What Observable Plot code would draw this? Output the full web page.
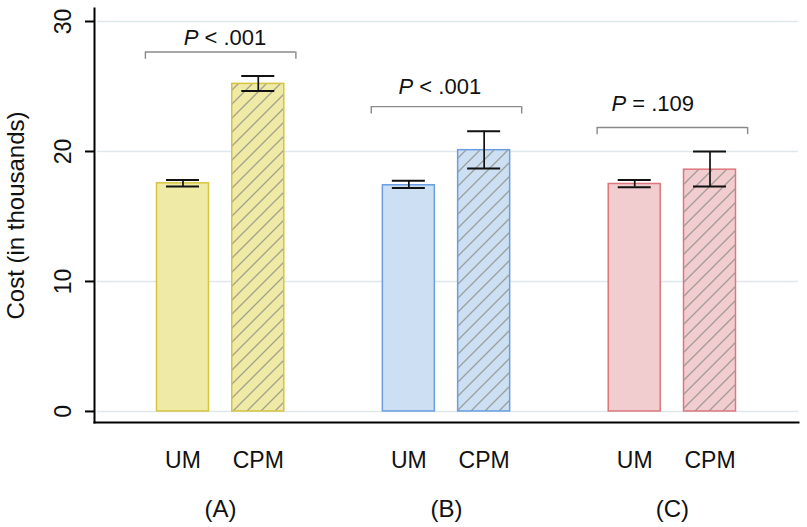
<!DOCTYPE html>
<html>
<head>
<meta charset="utf-8">
<script src="https://cdn.jsdelivr.net/npm/d3@7"></script>
<script src="https://cdn.jsdelivr.net/npm/@observablehq/plot@0.6"></script>
<style>
  html, body { margin: 0; padding: 0; background: #fff; }
  #chart { width: 807px; height: 527px; }
</style>
</head>
<body>
<div id="chart"></div>
<script>
// ---- data ----
const groups = ["A", "B", "C"];
const arms = ["UM", "CPM"];
const umMean = [17.55, 17.4, 17.5];
const umLow = [17.3, 17.2, 17.25];
const umHigh = [17.8, 17.75, 17.8];
const cpmMean = [25.2, 20.1, 18.6];
const cpmLow = [24.65, 18.7, 17.3];
const cpmHigh = [25.8, 21.55, 20.0];
const pLabels = ["P < .001", "P < .001", "P = .109"];
const bracketAt = [27.65, 23.45, 21.85];
const pLabelAt = [28.7, 24.95, 23.65];
const yTicks = [0, 10, 20, 30];
const yLabel = "Cost (in thousands)";

// ---- styles / layout ----
const palette = {
  A: {fill: "#efeaa6", stroke: "#d6c43f"},
  B: {fill: "#cddff3", stroke: "#6a9ee0"},
  C: {fill: "#f1cdd0", stroke: "#dc777d"}
};
const pDx = [42, 31, 18];
const halfStep = 37.6;
const legDrop = 0.56;
const font = "'Liberation Sans', Arial, Helvetica, sans-serif";

// ---- tables ----
const key = (g, a) => `${g}|${a}`;
const slots = [];
groups.forEach((g, i) => {
  arms.forEach(a => slots.push(key(g, a)));
  if (i < groups.length - 1) slots.push(`gap${i}`);
});
const rows = groups.flatMap((g, i) => [
  {group: g, arm: arms[0], slot: key(g, arms[0]), mean: umMean[i], lo: umLow[i], hi: umHigh[i]},
  {group: g, arm: arms[1], slot: key(g, arms[1]), mean: cpmMean[i], lo: cpmLow[i], hi: cpmHigh[i]}
]);
const pv = groups.map((g, i) => ({
  group: g, label: pLabels[i], bracket: bracketAt[i], at: pLabelAt[i],
  left: key(g, arms[0]), right: key(g, arms[1])
}));

const marks = [
  Plot.gridY(yTicks, {stroke: "#dde8eb", strokeOpacity: 1, strokeWidth: 1.5, insetLeft: 3})
];
groups.forEach(g => {
  marks.push(Plot.barY(rows.filter(d => d.group === g), {x: "slot", y: "mean", fill: palette[g].fill}));
});
marks.push(Plot.barY(rows.filter(d => d.arm === arms[1]), {x: "slot", y: "mean", fill: "url(#hatch)"}));
groups.forEach(g => {
  marks.push(Plot.barY(rows.filter(d => d.group === g), {x: "slot", y: "mean", fill: "none", stroke: palette[g].stroke, strokeWidth: 1.5}));
});
marks.push(
  Plot.ruleX(rows, {x: "slot", y1: "lo", y2: "hi", stroke: "#111", strokeWidth: 1.7}),
  Plot.tickY(rows, {x: "slot", y: "lo", stroke: "#111", strokeWidth: 2, inset: 9.5}),
  Plot.tickY(rows, {x: "slot", y: "hi", stroke: "#111", strokeWidth: 2, inset: 9.5}),
  Plot.ruleY(pv, {x1: "left", x2: "right", y: "bracket", insetLeft: -11.5, insetRight: -11.5, stroke: "#8a8a8a", strokeWidth: 1.4}),
  Plot.ruleX(pv, {x: "left", y1: "bracket", y2: d => d.bracket - legDrop, dx: -halfStep, stroke: "#8a8a8a", strokeWidth: 1.4}),
  Plot.ruleX(pv, {x: "right", y1: "bracket", y2: d => d.bracket - legDrop, dx: halfStep, stroke: "#8a8a8a", strokeWidth: 1.4})
);
pv.forEach((d, i) => {
  marks.push(Plot.text([d], {x: "left", y: "at", text: "label", dx: pDx[i], fontSize: 22, fill: "#111"}));
});
marks.push(
  Plot.text(pv, {x: "left", text: d => `(${d.group})`, frameAnchor: "bottom", dx: halfStep, dy: 94, fontSize: 24, fill: "#111"}),
  Plot.frame({anchor: "left", stroke: "#000", strokeWidth: 2}),
  Plot.frame({anchor: "bottom", stroke: "#000", strokeWidth: 2}),
  Plot.axisY({ticks: yTicks, tickSize: 9, tickPadding: 15, tickRotate: -90, fontSize: 23, label: null, strokeWidth: 2, fill: "#111"}),
  Plot.text([yLabel], {frameAnchor: "left", rotate: -90, dx: -78, fontSize: 24, fill: "#111", textAnchor: "middle"}),
  Plot.axisX({ticks: rows.map(d => d.slot), tickFormat: s => s.split("|")[1], label: null, tickSize: 0, tickPadding: 29, fontSize: 23, fill: "#111"})
);

const svg = Plot.plot({
  width: 807,
  height: 527,
  marginLeft: 94,
  marginRight: 9,
  marginTop: 8,
  marginBottom: 105,
  style: {fontFamily: font, background: "#fff", overflow: "visible"},
  x: {domain: slots, paddingInner: 0.3093, paddingOuter: 0.83, round: false, label: null, axis: null},
  y: {domain: [-0.85, 31], label: null, axis: null},
  marks
});

// hatch pattern for CPM bars
const defs = d3.select(svg).insert("defs", ":first-child");
const pat = defs.append("pattern")
  .attr("id", "hatch")
  .attr("patternUnits", "userSpaceOnUse")
  .attr("width", 14).attr("height", 14);
pat.append("path")
  .attr("d", "M-2,2 L2,-2 M0,14 L14,0 M12,16 L16,12")
  .attr("stroke", "#8f8f86")
  .attr("stroke-opacity", 0.8)
  .attr("stroke-width", 1.3)
  .attr("fill", "none");

// italic P in p-value labels
d3.select(svg).selectAll("text").each(function() {
  const s = this.textContent;
  if (!pLabels.includes(s)) return;
  const t = d3.select(this);
  t.text(null);
  t.append("tspan").attr("font-style", "italic").text(s.slice(0, 1));
  t.append("tspan").text(s.slice(1));
});

document.getElementById("chart").appendChild(svg);
</script>
</body>
</html>
